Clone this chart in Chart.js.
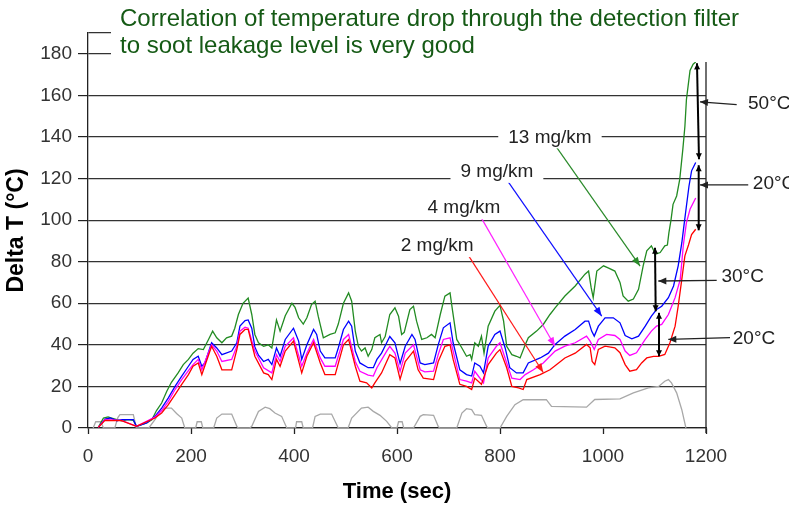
<!DOCTYPE html>
<html><head><meta charset="utf-8">
<script src="https://cdn.jsdelivr.net/npm/chart.js@4.4.1/dist/chart.umd.min.js"></script>
<style>html,body{margin:0;padding:0;background:#fff;}canvas{display:block;}</style>
</head><body>
<canvas id="c" width="789" height="505"></canvas>
<script>
const FONT = "'Liberation Sans', Arial, sans-serif";
const titleLines = ["Correlation of temperature drop through the detection filter", "to soot leakage level is very good"];
const xAxisTitle = "Time (sec)";
const yAxisTitle = "Delta T (°C)";
const seriesNames = ["13 mg/km", "9 mg/km", "4 mg/km", "2 mg/km", "Speed"];

const t13 = [20,30,39,46,56,65,78,88,94,104,114,124,133,143,153,162,175,185,195,204,214,224,234,242,250,260,269,279,285,292,301,311,318,324,331,341,350,357,366,373,383,396,402,409,418,425,434,441,447,457,470,480,486,496,506,512,519,525,531,538,544,551,557,567,570,577,586,596,603,609,614,625,632,638,648,658,667,674,684,693,703,708,716,726,735,742,745,751,758,764,769,777,790,800,807,813,823,832,839,849,855,871,884,897,907,926,946,965,972,977,981,988,1001,1010,1023,1033,1039,1049,1059,1069,1078,1085,1094,1102,1111,1120,1125,1128,1132,1136,1143,1149,1155,1159,1162,1166,1169,1175,1180];
const v13 = [0.3,4.8,5.3,4.8,4.0,3.5,4.0,3.7,0.8,1.6,2.4,4.0,8.4,12,17.7,22,26.5,30.5,33,36,38.2,37.7,42.6,46.6,43.4,41,43.4,44.2,48,54.6,60,62.5,54.6,45,41,39.3,40,38.5,52,46.6,54,60,58,53,50,53,59.4,61,53.8,43.4,45,45.8,50,60,65,61,46.6,39.3,37,38.5,34.5,37.7,43.4,45,41,44,54.6,57.8,53.8,45,46,57,58.6,51.4,42.6,43.4,45,43.4,54.6,63.4,65,56.2,42.6,38.5,34.5,35.3,33,41,39.3,44.2,36,49,56.2,59,51.4,39.3,35.3,34.5,33.7,40,43.4,46.6,49.8,54.6,57.8,63.5,68.3,74,75.5,67.5,62.7,75.5,78,77,75.5,70,63.5,61,62,66.7,78,85.2,87.6,83.6,84.4,87.6,88,94,100,107.6,111.6,119.6,134,145,158,166,172,175,176];

const t9 = [20,33,43,56,65,88,94,114,130,143,156,169,182,195,204,214,221,227,240,250,260,279,289,295,305,311,318,324,331,341,350,357,366,373,383,399,409,415,425,438,444,451,460,480,486,496,506,512,519,528,544,554,561,570,580,586,596,606,616,629,635,645,654,671,680,690,703,709,722,735,745,751,761,768,777,790,800,810,819,832,845,855,878,894,907,926,946,965,972,978,983,991,1004,1020,1033,1043,1056,1069,1082,1094,1104,1114,1127,1137,1146,1153,1157,1162,1167,1172,1180];
const v9 = [0.3,4.3,4.8,3.5,4.0,4.0,0.8,2.4,5.6,9.6,14.5,20,25,29.7,33,34.5,29.7,31.3,41,38.5,35.3,37,41,49,51.7,52,48,39,35,32,33,30.5,38.5,34.5,42.6,48,41.8,33,40,47.4,45,37,33.7,33.7,38.5,47.4,51.4,49,37,31.3,29,29,33,36,41,44,41,31,39.3,45,42.6,31.3,30.5,31.3,40,48.2,50.6,41,28,25.7,25,31.3,29.7,26.5,39.3,45,46.6,38.5,29,26.5,26.5,31.3,33.7,36,40.2,44.2,47.4,51.4,51.4,46.6,44.2,49,53,53,50.6,44.5,42.9,44.2,49,53.8,57,58.6,62.7,68.3,78,89,97,106.8,116.4,123.7,127.7];

const t4 = [20,33,65,94,130,143,156,169,182,195,204,214,221,240,250,260,279,289,295,305,311,324,341,357,366,373,383,399,415,425,438,451,460,480,496,506,519,528,544,554,561,580,586,596,606,616,632,645,654,671,680,690,703,709,722,735,745,751,768,777,793,800,813,823,839,849,865,884,907,926,946,968,975,983,991,1007,1023,1033,1043,1052,1065,1082,1094,1104,1114,1127,1140,1150,1156,1162,1169,1180];
const v4 = [0.3,4.0,3.7,0.8,5.2,8.4,12.8,18.5,23.3,27.6,30.5,33,28,40,37,32,33,39.3,46.6,48.5,48,37,29,26.5,35.3,32,39.3,43.4,29.7,36,42.6,33.7,29.7,29.7,42.6,45,32,27.3,25.4,25,29,37,39.3,36,27.2,36,40,28,27,27.3,35.3,42.6,43.4,37,23.3,22.5,21.7,27.3,21.7,33.7,39.3,41,31.3,24,23.3,25.7,28,31.3,37,39.4,41,44.2,41.8,37.8,42.6,45,44.5,42.6,37,34.9,36.2,42.6,46.6,49,49.8,54.6,62.7,71.5,88,98.8,105.2,110.6];

const t2 = [20,33,65,94,130,143,156,169,182,195,204,214,221,240,250,260,279,289,295,305,311,324,341,350,357,366,373,383,399,415,425,438,451,460,480,496,506,519,528,541,551,557,570,586,596,606,616,632,641,651,671,680,693,703,709,722,735,745,751,764,777,793,800,813,823,836,845,852,878,897,910,926,946,968,975,979,984,991,1004,1023,1033,1043,1052,1065,1075,1085,1098,1108,1120,1130,1140,1146,1153,1159,1166,1172,1180];
const v2 = [0.3,3.7,3.5,0.8,4.8,7.2,11.2,16,21,25.7,29.7,31.3,25.7,39.3,34.5,28,28,37.7,45,47.4,47.4,34.5,26.5,25.7,23.3,33,29.7,37,41.8,26.5,34.5,41,31.3,25.7,25.7,40,42.6,29.7,22.5,21.7,19.3,21.7,26.5,35.3,33.7,23.5,32,37,28,24,23.3,32,39.3,40,33,21,20,18.5,24,21,30.5,36,37.7,29,20,19.3,18.5,23.3,25.7,28,30.5,33.7,36,40.2,38.6,32,30.5,37.8,39.4,38.6,36.2,30.5,27.3,28.1,31.3,33.7,34.5,34.5,35.4,41,49,58.6,71.5,82.8,88,93,95.6];

const tSpeed = [10,15,25,30,52,58,62,88,94,118,130,140,150,162,172,182,188,209,212,220,223,244,250,260,279,289,292,314,318,331,344,353,363,376,386,403,405,415,418,436,441,451,473,486,505,512,531,544,554,567,580,590,600,603,610,613,632,645,651,671,680,683,716,726,735,745,751,764,774,777,800,813,829,845,890,900,968,984,1033,1059,1088,1108,1120,1127,1133,1143,1153,1161];
const vSpeed = [0,3,3,0,0,5,6.4,6.4,0,0,4,8,9.6,9.6,7,4.8,0,0,3,3,0,0,4.8,6.7,6.7,0.8,0,0,0.8,8,10,9.3,7.2,5.6,0,0,3,3,0,0,5.6,6.7,6.7,0,0,4.8,9.6,10,8,6.1,3.2,0,0,3,3,0,0,5.6,6.4,6.1,0.8,0,0,7.2,9.3,8.8,6.4,6.1,0.8,0,0,5.6,11.2,13.6,13.6,10.4,10,13.7,14,16.9,19.3,20,22.5,23.3,21.7,16.9,8.8,0];

const xTicks = [0,200,400,600,800,1000,1200];
const yTicks = [0,20,40,60,80,100,120,140,160,180];

// annotation text (positions in data units)
const callouts = [
  {text: "13 mg/km", at: [897, 139.8], from: [910, 135], to: [1072, 77.9], color: '#2a8a2a'},
  {text: "9 mg/km", at: [794, 123.2], from: [816, 118.4], to: [997.5, 53.8], color: '#1010ff'},
  {text: "4 mg/km", at: [730, 105.7], from: [764.5, 100.7], to: [906.8, 39.3], color: '#ff22ff'},
  {text: "2 mg/km", at: [678, 87.5], from: [737.3, 83.5], to: [884, 26.7], color: '#ff1a1a'}
];
const diffArrows = [
  {from: [1182.5, 175.4], to: [1186.4, 129.3]},
  {from: [1185.8, 126.4], to: [1185.8, 95.1]},
  {from: [1101, 86.7], to: [1102.3, 56.2]},
  {from: [1108.7, 55.4], to: [1108.7, 34.5]}
];
const diffLabels = [
  {text: "50°C", at: [1281.6, 155.8], from: [1259.6, 155.5], to: [1188.3, 156.9]},
  {text: "20°C", at: [1291, 117.3], from: [1282, 116.9], to: [1188.3, 116.9]},
  {text: "30°C", at: [1230, 72.9], from: [1220.8, 71], to: [1107.4, 70.7]},
  {text: "20°C", at: [1252, 43], from: [1246.6, 43.5], to: [1126.8, 42.6]}
];

function pts(t, v) { return t.map((x, i) => ({x: x, y: v[i]})); }

function arrowHead(ctx, x1, y1, x2, y2, len, w) {
  const a = Math.atan2(y2 - y1, x2 - x1);
  ctx.beginPath();
  ctx.moveTo(x2, y2);
  ctx.lineTo(x2 - len * Math.cos(a) + w * Math.sin(a), y2 - len * Math.sin(a) - w * Math.cos(a));
  ctx.lineTo(x2 - len * Math.cos(a) - w * Math.sin(a), y2 - len * Math.sin(a) + w * Math.cos(a));
  ctx.closePath();
  ctx.fill();
}

const overlay = {
  id: 'overlay',
  afterDraw(chart) {
    const ctx = chart.ctx, xs = chart.scales.x, ys = chart.scales.y, ca = chart.chartArea;
    const P = p => [xs.getPixelForValue(p[0]), ys.getPixelForValue(p[1])];
    ctx.save();
    // right border of plot
    ctx.strokeStyle = '#222'; ctx.lineWidth = 1.3;
    ctx.beginPath(); ctx.moveTo(ca.right, ca.top); ctx.lineTo(ca.right, ca.bottom + 5); ctx.stroke();

    // callout arrows
    callouts.forEach(c => {
      const [x1, y1] = P(c.from), [x2, y2] = P(c.to);
      ctx.strokeStyle = c.color; ctx.fillStyle = c.color; ctx.lineWidth = 1.2;
      ctx.beginPath(); ctx.moveTo(x1, y1); ctx.lineTo(x2, y2); ctx.stroke();
      arrowHead(ctx, x1, y1, x2, y2, 9, 3.5);
    });
    // difference double arrows
    ctx.strokeStyle = '#000'; ctx.fillStyle = '#000';
    diffArrows.forEach(a => {
      const [x1, y1] = P(a.from), [x2, y2] = P(a.to);
      ctx.lineWidth = 2;
      ctx.beginPath(); ctx.moveTo(x1, y1); ctx.lineTo(x2, y2); ctx.stroke();
      arrowHead(ctx, x1, y1, x2, y2, 6, 3);
      arrowHead(ctx, x2, y2, x1, y1, 6, 3);
    });
    // label arrows
    ctx.font = "19px " + FONT; ctx.textBaseline = 'middle'; ctx.textAlign = 'left';
    diffLabels.forEach(l => {
      const [x1, y1] = P(l.from), [x2, y2] = P(l.to);
      ctx.strokeStyle = '#222'; ctx.fillStyle = '#222'; ctx.lineWidth = 1.3;
      ctx.beginPath(); ctx.moveTo(x1, y1); ctx.lineTo(x2, y2); ctx.stroke();
      arrowHead(ctx, x1, y1, x2, y2, 8, 3.5);
      const [tx, ty] = P(l.at);
      ctx.fillStyle = '#222';
      ctx.fillText(l.text, tx, ty);
    });
    // callout labels with white boxes
    ctx.textAlign = 'center';
    callouts.forEach(c => {
      const [tx, ty] = P(c.at);
      const w = ctx.measureText(c.text).width;
      ctx.fillStyle = '#fff';
      ctx.fillRect(tx - w / 2 - 10, ty - 11, w + 20, 22);
      ctx.fillStyle = '#222';
      ctx.fillText(c.text, tx, ty);
    });
    // title box
    ctx.fillStyle = '#fff';
    ctx.fillRect(ca.left + 23, 0, chart.width - ca.left - 23, 62);
    ctx.fillStyle = '#155a15';
    ctx.font = "24px " + FONT; ctx.textAlign = 'left'; ctx.textBaseline = 'alphabetic';
    ctx.fillText(titleLines[0], 120, 26);
    ctx.fillText(titleLines[1], 120, 53);
    ctx.restore();
  }
};

const lineDs = (label, t, v, color, w) => ({
  label: label, data: pts(t, v), borderColor: color, backgroundColor: color,
  borderWidth: w, pointRadius: 0, tension: 0, fill: false
});

new Chart(document.getElementById('c'), {
  type: 'line',
  data: {
    datasets: [
      lineDs(seriesNames[3], t2, v2, '#ff0000', 1.3),
      lineDs(seriesNames[2], t4, v4, '#ff00ff', 1.3),
      lineDs(seriesNames[1], t9, v9, '#0000ff', 1.3),
      lineDs(seriesNames[0], t13, v13, '#228b22', 1.3),
      lineDs(seriesNames[4], tSpeed, vSpeed, '#a8a8a8', 1.3)
    ]
  },
  options: {
    responsive: false, animation: false, parsing: true,
    layout: {padding: {left: 0, top: 33, right: 83, bottom: 0}},
    plugins: {legend: {display: false}, tooltip: {enabled: false}, title: {display: false}},
    scales: {
      x: {
        type: 'linear', min: 0, max: 1200, position: 'bottom', z: 1,
        afterBuildTicks: s => { s.ticks = xTicks.map(v => ({value: v})); },
        afterFit: s => { s.height = 77; },
        ticks: {font: {family: FONT, size: 19}, color: '#333', padding: 11, maxRotation: 0, autoSkip: false,
                callback: v => String(v)},
        grid: {drawOnChartArea: false, drawTicks: true, tickLength: 6, tickColor: '#222', tickWidth: 1.3},
        border: {display: true, color: '#222', width: 1.3},
        title: {display: true, text: xAxisTitle, color: '#000', font: {family: FONT, size: 22, weight: 'bold'}, padding: {top: 0, bottom: 0}}
      },
      y: {
        type: 'linear', min: 0, max: 190,
        afterBuildTicks: s => { s.ticks = yTicks.concat([190]).map(v => ({value: v})); },
        afterFit: s => { s.width = 88; },
        ticks: {font: {family: FONT, size: 19}, color: '#333', padding: 6, callback: v => (v === 190 ? '' : String(v))},
        grid: {color: '#333', lineWidth: 1.2, drawTicks: true, tickLength: 10,
               tickColor: c => (c.tick && c.tick.value === 190 ? 'rgba(0,0,0,0)' : '#222')},
        border: {display: true, color: '#222', width: 1.3},
        title: {display: true, text: yAxisTitle, color: '#000', font: {family: FONT, size: 23, weight: 'bold'}, padding: {top: 3, bottom: 0}}
      }
    }
  },
  plugins: [overlay]
});
</script>
</body></html>
